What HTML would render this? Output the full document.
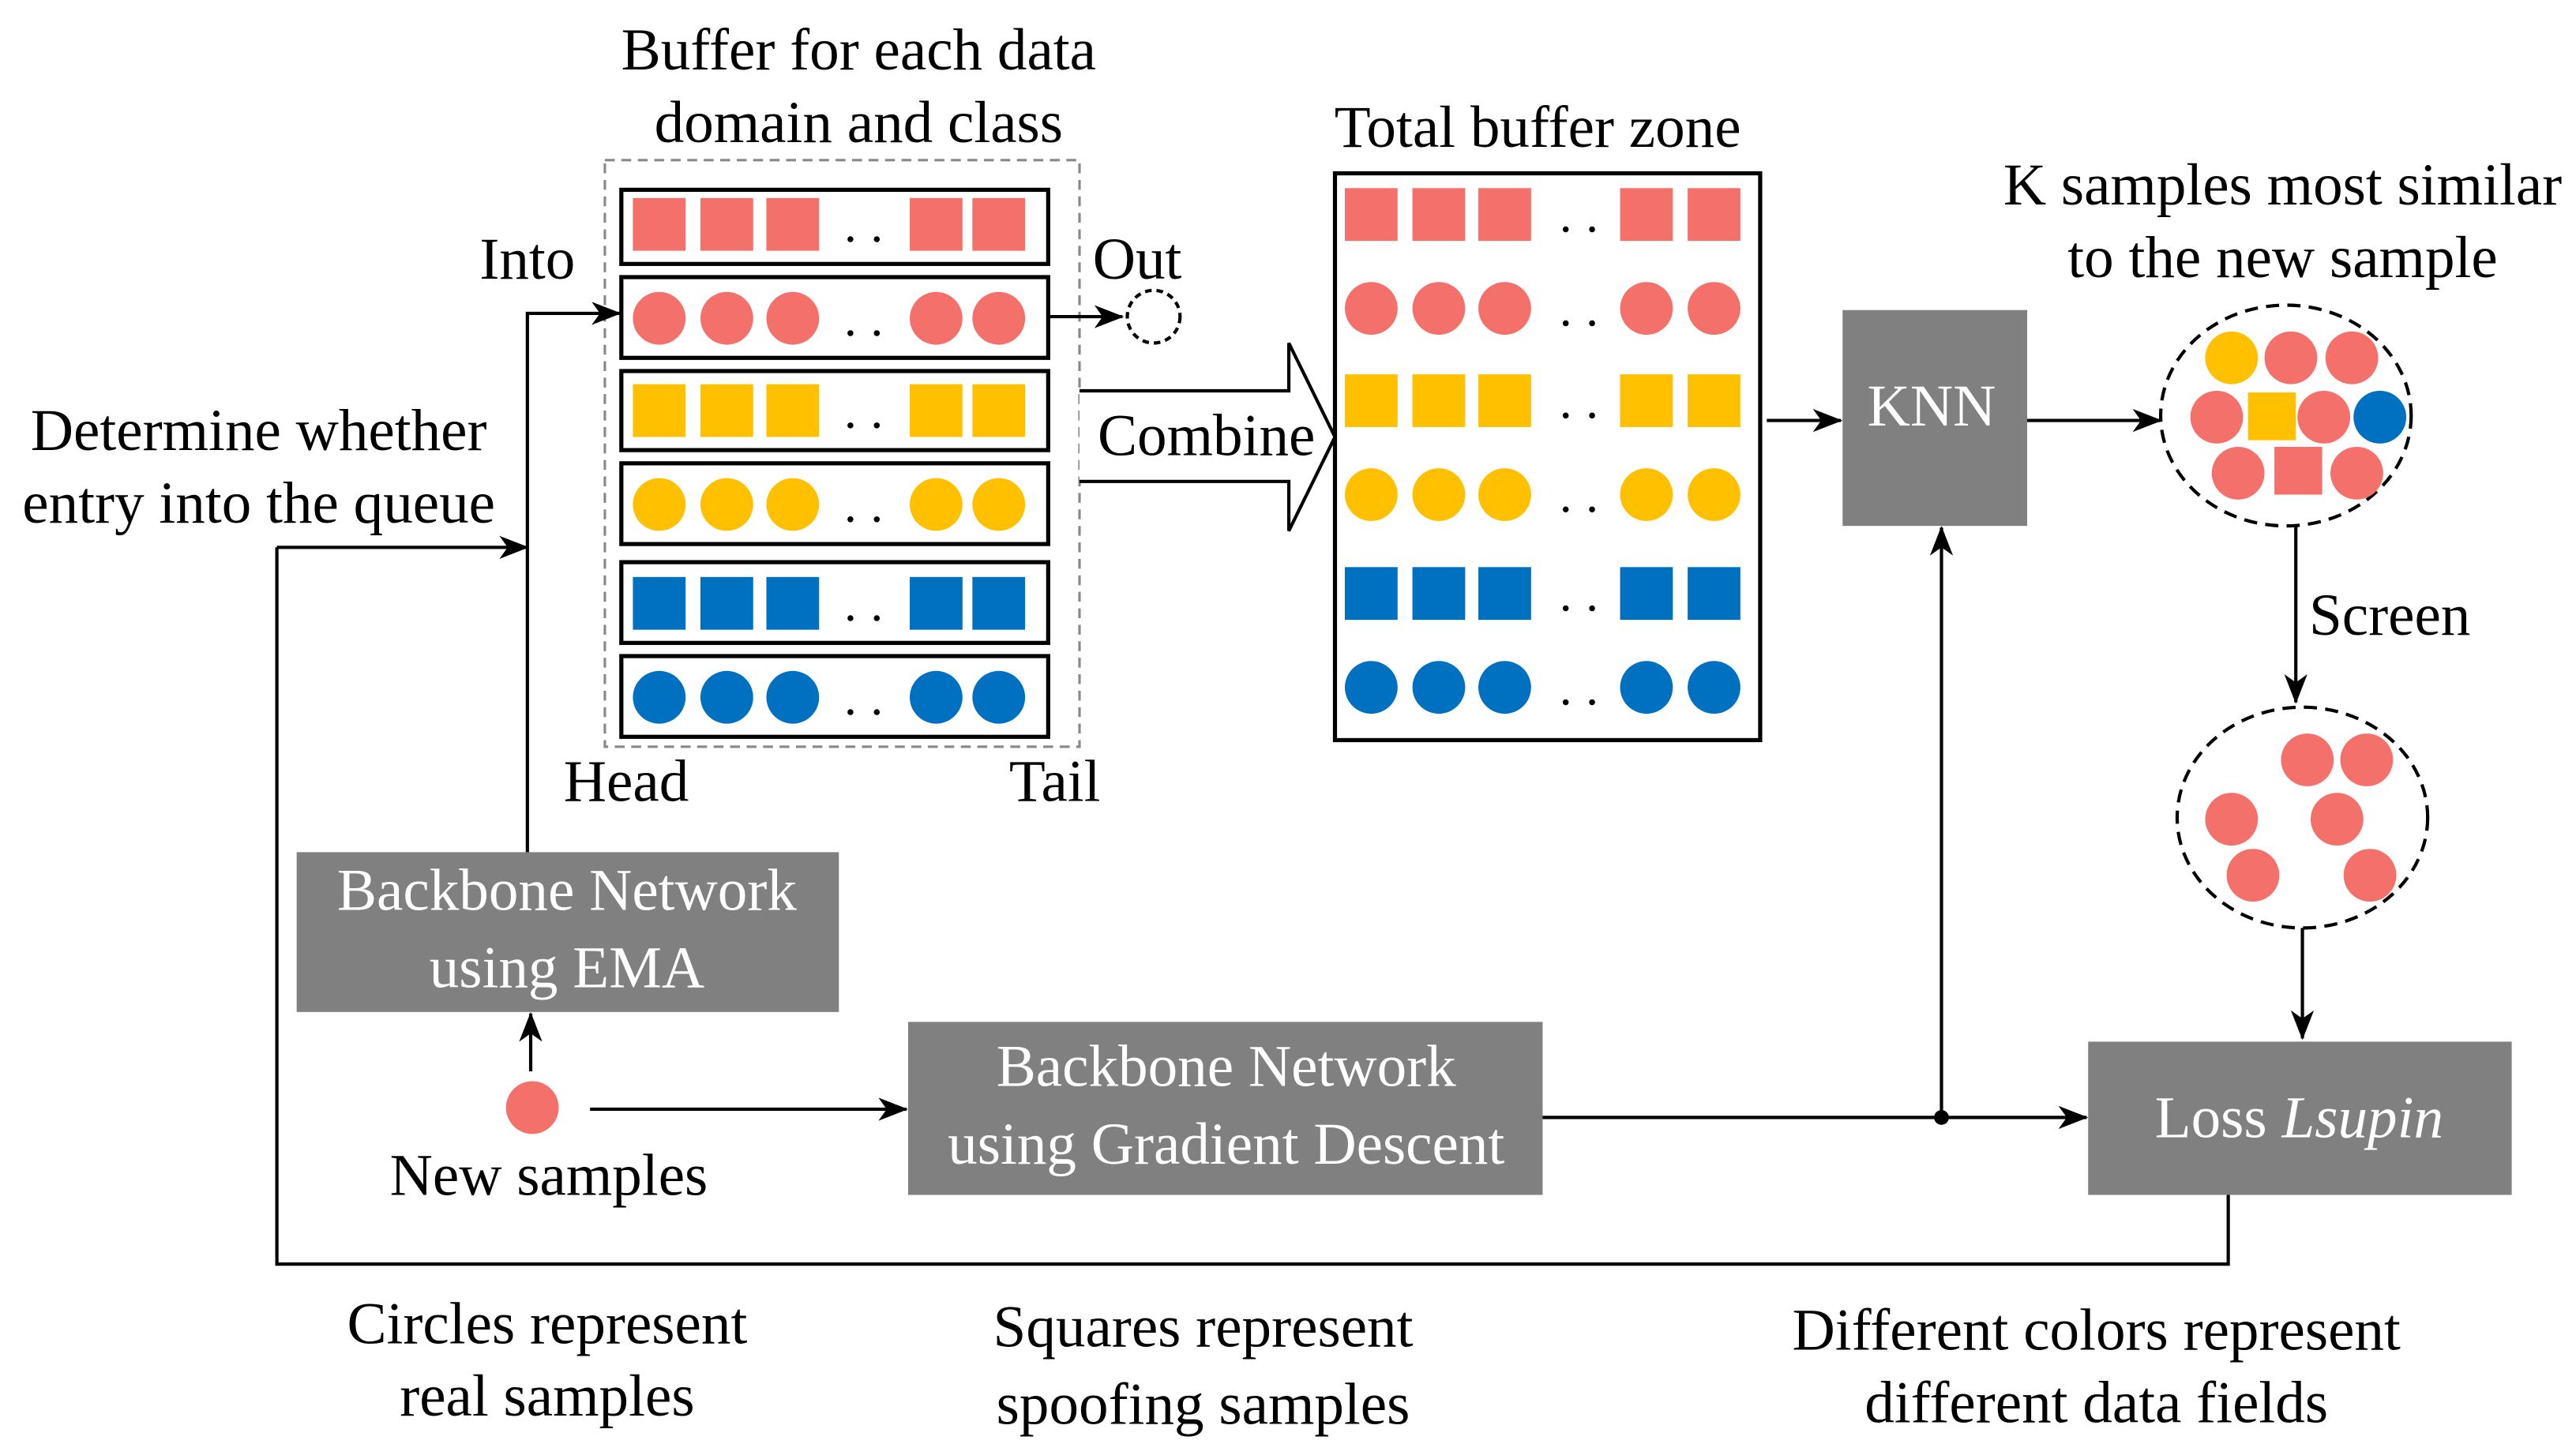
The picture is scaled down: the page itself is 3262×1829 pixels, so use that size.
<!DOCTYPE html>
<html><head><meta charset="utf-8"><style>html,body{margin:0;padding:0;background:#fff}svg{display:block}</style></head>
<body>
<svg width="3262" height="1829" viewBox="0 0 1563 876" xmlns="http://www.w3.org/2000/svg" style="font-family:'Liberation Serif',serif" font-size="36">
<defs>
<marker id="b" markerWidth="18" markerHeight="14" refX="17" refY="7" orient="auto" markerUnits="userSpaceOnUse" viewBox="0 0 18 14"><path d="M0,0 L18,7 L0,14 L5,7 z" fill="#000"/></marker>
</defs>
<rect width="1563" height="876" fill="#fff"/>
<g text-anchor="middle" fill="#000">
<text x="521" y="42">Buffer for each data</text>
<text x="521" y="86">domain and class</text>
<text x="320" y="169">Into</text>
<text x="690" y="169">Out</text>
<text x="380" y="486">Head</text>
<text x="640" y="486">Tail</text>
<text x="157" y="273">Determine whether</text>
<text x="157" y="317">entry into the queue</text>
<text x="933" y="89">Total buffer zone</text>
<text x="1385" y="124">K samples most similar</text>
<text x="1385" y="168">to the new sample</text>
<text x="1450" y="385">Screen</text>
<text x="333" y="725">New samples</text>
<text x="332" y="815">Circles represent</text>
<text x="332" y="859">real samples</text>
<text x="730" y="817">Squares represent</text>
<text x="730" y="864">spoofing samples</text>
<text x="1272" y="819">Different colors represent</text>
<text x="1272" y="863">different data fields</text>
</g>
<rect x="367" y="97" width="288" height="356" fill="none" stroke="#888" stroke-width="1.5" stroke-dasharray="6,4"/>
<g stroke="#000" stroke-width="2.5" fill="none">
<rect x="377" y="115" width="259" height="45"/><rect x="377" y="168" width="259" height="49"/><rect x="377" y="225" width="259" height="48"/>
<rect x="377" y="281" width="259" height="49"/><rect x="377" y="341" width="259" height="49"/><rect x="377" y="398" width="259" height="49"/>
<rect x="810" y="105" width="258" height="344"/>
</g>
<g fill="#F4706A"><rect x="384" y="120" width="32" height="32"/><rect x="425" y="120" width="32" height="32"/><rect x="465" y="120" width="32" height="32"/><rect x="552" y="120" width="32" height="32"/><rect x="590" y="120" width="32" height="32"/>
<circle cx="400" cy="193" r="16"/><circle cx="441" cy="193" r="16"/><circle cx="481" cy="193" r="16"/><circle cx="568" cy="193" r="16"/><circle cx="606" cy="193" r="16"/></g>
<g fill="#FFC000"><rect x="384" y="233" width="32" height="32"/><rect x="425" y="233" width="32" height="32"/><rect x="465" y="233" width="32" height="32"/><rect x="552" y="233" width="32" height="32"/><rect x="590" y="233" width="32" height="32"/>
<circle cx="400" cy="306" r="16"/><circle cx="441" cy="306" r="16"/><circle cx="481" cy="306" r="16"/><circle cx="568" cy="306" r="16"/><circle cx="606" cy="306" r="16"/></g>
<g fill="#0070C0"><rect x="384" y="350" width="32" height="32"/><rect x="425" y="350" width="32" height="32"/><rect x="465" y="350" width="32" height="32"/><rect x="552" y="350" width="32" height="32"/><rect x="590" y="350" width="32" height="32"/>
<circle cx="400" cy="423" r="16"/><circle cx="441" cy="423" r="16"/><circle cx="481" cy="423" r="16"/><circle cx="568" cy="423" r="16"/><circle cx="606" cy="423" r="16"/></g>
<g fill="#000"><circle cx="516" cy="145" r="1.8"/><circle cx="532" cy="145" r="1.8"/><circle cx="516" cy="202" r="1.8"/><circle cx="532" cy="202" r="1.8"/><circle cx="516" cy="258" r="1.8"/><circle cx="532" cy="258" r="1.8"/><circle cx="516" cy="315" r="1.8"/><circle cx="532" cy="315" r="1.8"/><circle cx="516" cy="375" r="1.8"/><circle cx="532" cy="375" r="1.8"/><circle cx="516" cy="432" r="1.8"/><circle cx="532" cy="432" r="1.8"/>
<circle cx="950" cy="139" r="1.8"/><circle cx="966" cy="139" r="1.8"/><circle cx="950" cy="196" r="1.8"/><circle cx="966" cy="196" r="1.8"/><circle cx="950" cy="252" r="1.8"/><circle cx="966" cy="252" r="1.8"/><circle cx="950" cy="309" r="1.8"/><circle cx="966" cy="309" r="1.8"/><circle cx="950" cy="369" r="1.8"/><circle cx="966" cy="369" r="1.8"/><circle cx="950" cy="426" r="1.8"/><circle cx="966" cy="426" r="1.8"/></g>
<g fill="#F4706A"><rect x="816" y="114" width="32" height="32"/><rect x="857" y="114" width="32" height="32"/><rect x="897" y="114" width="32" height="32"/><rect x="983" y="114" width="32" height="32"/><rect x="1024" y="114" width="32" height="32"/>
<circle cx="832" cy="187" r="16"/><circle cx="873" cy="187" r="16"/><circle cx="913" cy="187" r="16"/><circle cx="999" cy="187" r="16"/><circle cx="1040" cy="187" r="16"/></g>
<g fill="#FFC000"><rect x="816" y="227" width="32" height="32"/><rect x="857" y="227" width="32" height="32"/><rect x="897" y="227" width="32" height="32"/><rect x="983" y="227" width="32" height="32"/><rect x="1024" y="227" width="32" height="32"/>
<circle cx="832" cy="300" r="16"/><circle cx="873" cy="300" r="16"/><circle cx="913" cy="300" r="16"/><circle cx="999" cy="300" r="16"/><circle cx="1040" cy="300" r="16"/></g>
<g fill="#0070C0"><rect x="816" y="344" width="32" height="32"/><rect x="857" y="344" width="32" height="32"/><rect x="897" y="344" width="32" height="32"/><rect x="983" y="344" width="32" height="32"/><rect x="1024" y="344" width="32" height="32"/>
<circle cx="832" cy="417" r="16"/><circle cx="873" cy="417" r="16"/><circle cx="913" cy="417" r="16"/><circle cx="999" cy="417" r="16"/><circle cx="1040" cy="417" r="16"/></g>
<path d="M655,237 H782 V208 L810,265 L782,322 V292 H655" fill="#fff" stroke="#000" stroke-width="2"/>
<text x="732" y="276" text-anchor="middle">Combine</text>
<circle cx="700" cy="192" r="16" fill="none" stroke="#000" stroke-width="2" stroke-dasharray="4,3"/>
<g fill="#808080"><rect x="1118" y="188" width="112" height="131"/><rect x="1267" y="632" width="257" height="93"/><rect x="180" y="517" width="329" height="97"/><rect x="551" y="620" width="385" height="105"/></g>
<g fill="#fff" text-anchor="middle"><text x="1172" y="258">KNN</text>
<text x="1395" y="690">Loss <tspan font-style="italic">Lsupin</tspan></text>
<text x="344" y="552">Backbone Network</text><text x="344" y="599">using EMA</text>
<text x="744" y="659">Backbone Network</text><text x="744" y="706">using Gradient Descent</text></g>
<g fill="none" stroke="#000" stroke-width="2" stroke-dasharray="8,5"><ellipse cx="1387" cy="252" rx="76" ry="67"/><ellipse cx="1397" cy="496" rx="76" ry="67"/></g>
<circle cx="1354" cy="217" r="16" fill="#FFC000"/><circle cx="1444" cy="253" r="16" fill="#0070C0"/>
<g fill="#F4706A"><circle cx="1390" cy="217" r="16"/><circle cx="1427" cy="217" r="16"/><circle cx="1345" cy="253" r="16"/><circle cx="1410" cy="253" r="16"/><circle cx="1358" cy="287" r="16"/><circle cx="1430" cy="287" r="16"/><rect x="1380" y="271" width="29" height="29"/>
<circle cx="1400" cy="461" r="16"/><circle cx="1436" cy="461" r="16"/><circle cx="1354" cy="497" r="16"/><circle cx="1418" cy="497" r="16"/><circle cx="1367" cy="531" r="16"/><circle cx="1438" cy="531" r="16"/>
<circle cx="323" cy="672" r="16"/></g>
<rect x="1364" y="238" width="29" height="29" fill="#FFC000"/>
<g stroke="#000" stroke-width="2" fill="none">
<path d="M320,517 V190 H376" marker-end="url(#b)"/>
<path d="M636,192 H681" marker-end="url(#b)"/>
<path d="M168,332 H320" marker-end="url(#b)"/>
<path d="M1352,725 V767 H168 V332"/>
<path d="M1072,255 H1117" marker-end="url(#b)"/>
<path d="M1230,255 H1311" marker-end="url(#b)"/>
<path d="M1393,319 V426" marker-end="url(#b)"/>
<path d="M1397,563 V630" marker-end="url(#b)"/>
<path d="M322,650 V615" marker-end="url(#b)"/>
<path d="M358,673 H550" marker-end="url(#b)"/>
<path d="M936,678 H1266" marker-end="url(#b)"/>
<path d="M1178,678 V320" marker-end="url(#b)"/>
</g>
<circle cx="1178" cy="678" r="4.5" fill="#000"/>
</svg>
</body></html>
